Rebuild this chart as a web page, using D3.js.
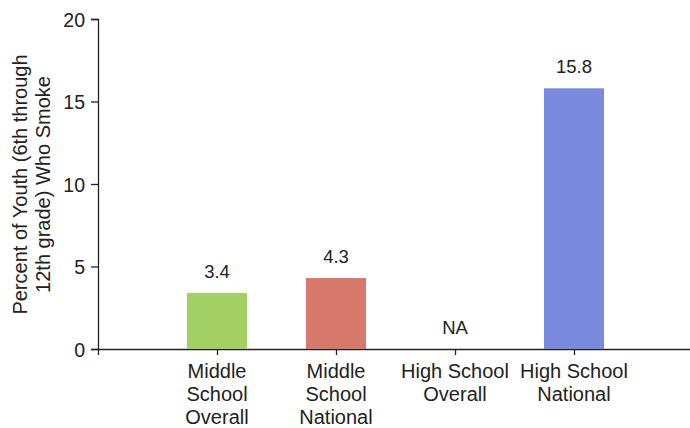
<!DOCTYPE html>
<html><head><meta charset="utf-8">
<script src="https://cdn.jsdelivr.net/npm/d3@7"></script>
<style>body{margin:0;background:#fff;} text{font-family:"Liberation Sans",Arial,sans-serif;}</style>
</head><body>
<svg id="c" width="690" height="428"></svg>
<script>
const categories = [["Middle","School","Overall"],["Middle","School","National"],["High School","Overall"],["High School","National"]];
const values = [3.4, 4.3, null, 15.8];
const valueLabels = ["3.4","4.3","NA","15.8"];
const colors = ["#a2d064","#d7796a","","#7989dd"];
const yTicks = [0,5,10,15,20];
const yTitle = ["Percent of Youth (6th through","12th grade) Who Smoke"];

const svg = d3.select("#c");
const keys = categories.map((c,i)=>String(i));
const x = d3.scalePoint().domain(keys).range([98,693]).padding(1);
const y = d3.scaleLinear().domain([0,20]).range([349,19]);
const barW = 60;
const fs = 20;

const gx = svg.append("g").attr("transform","translate(0,349)")
  .call(d3.axisBottom(x).tickSize(6).tickFormat(""));
const gy = svg.append("g").attr("transform","translate(98,0)")
  .call(d3.axisLeft(y).tickValues(yTicks).tickSize(7));
[gx,gy].forEach(g=>{g.selectAll("path,line").attr("stroke","#222").attr("stroke-width",1.3);});
gy.selectAll("text").attr("font-size",19.5).attr("fill","#222").attr("x",-13).attr("dy","0.36em");

// x labels
keys.forEach((k,i)=>{
  const t = svg.append("text").attr("text-anchor","middle").attr("font-size",fs).attr("fill","#222");
  categories[i].forEach((line,j)=>{
    t.append("tspan").attr("x",x(k)).attr("y",378+j*23).text(line);
  });
});

// bars
svg.append("g").selectAll("rect").data(keys.filter((k,i)=>values[i]!=null)).join("rect")
  .attr("x",k=>x(k)-barW/2).attr("width",barW)
  .attr("y",k=>y(values[+k])).attr("height",k=>y(0)-y(values[+k]))
  .attr("fill",k=>colors[+k]);

// value labels
svg.append("g").selectAll("text").data(keys).join("text")
  .attr("x",k=>x(k)).attr("y",k=>y(values[+k]==null?0:values[+k])-15)
  .attr("text-anchor","middle").attr("font-size",18.5).attr("fill","#222")
  .text(k=>valueLabels[+k]);

// y title
const yt = svg.append("text").attr("transform","translate(27,184.5) rotate(-90)")
  .attr("text-anchor","middle").attr("font-size",fs).attr("fill","#222");
yTitle.forEach((line,j)=>yt.append("tspan").attr("x",0).attr("y",j*23).text(line));
</script>
</body></html>
